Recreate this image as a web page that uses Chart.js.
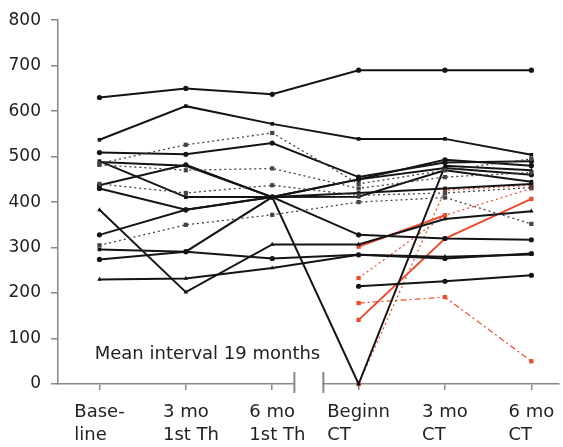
<!DOCTYPE html>
<html>
<head>
<meta charset="utf-8">
<script src="https://cdn.jsdelivr.net/npm/chart.js@4.4.1/dist/chart.umd.min.js"></script>
<style>
  html, body { margin: 0; padding: 0; background: #fff; }
  #wrap { width: 563px; height: 447px; }
</style>
</head>
<body>
<div id="wrap"><canvas id="spaghetti"></canvas></div>
<script>
// time points (x axis), two lines each
const timepoints = [["Base-", "line"], ["3 mo", "1st Th"], ["6 mo", "1st Th"], ["Beginn", "CT"], ["3 mo", "CT"], ["6 mo", "CT"]];
const note = "Mean interval 19 months";

// one array per patient
const blackSolid = [
  [630, 650, 637, 690, 690, 690],
  [537, 611, 572, 539, 539, 504],
  [509, 505, 530, 455, 487, 490],
  [488, 480, 411, 0, 480, 470],
  [437, 482, 411, 450, 475, 460],
  [490, 411, 411, 412, 470, 445],
  [430, 383, 411, 328, 320, 317],
  [383, 202, 307, 307, 363, 380],
  [328, 383, 411, 450, 493, 480],
  [296, 291, 411, 420, 430, 440],
  [274, 291, 276, 284, 276, 287],
  [230, 232, 255, 284, 280, 285],
  [null, null, null, 215, 226, 239]
];
const greyDotted = [
  [485, 526, 552, 440, 470, 495],
  [482, 470, 474, 430, 455, 465],
  [440, 420, 437, 415, 420, 432],
  [305, 350, 372, 400, 410, 352]
];
const redSolid = [
  [null, null, null, 141, 320, 407],
  [null, null, null, 302, 371, null]
];
const redDotted = [
  [null, null, null, 233, 371, 430],
  [null, null, null, 0, 426, 437]
];
const redDashDot = [
  [null, null, null, 178, 191, 50]
];

const BLACK = '#141414', GREY = '#444', RED = '#ee4a2c';
const shapes = ['circle', 'rect', 'circle', 'triangle'];

function toPoints(vals) {
  return vals.map((v, i) => ({ x: i, y: v }));
}
function makeSet(vals, color, width, dash, shape, r) {
  return {
    data: toPoints(vals),
    borderColor: color,
    backgroundColor: color,
    borderWidth: width,
    borderDash: dash,
    pointStyle: shape,
    pointRadius: r,
    pointBorderWidth: 0,
    tension: 0,
    clip: false
  };
}

const datasets = [];
greyDotted.forEach((s, k) => datasets.push(makeSet(s, GREY, 1.3, [2, 3], 'rect', 3)));
blackSolid.forEach((s, k) => datasets.push(makeSet(s, BLACK, 2, [], shapes[k % shapes.length], 2.6)));
redSolid.forEach(s => datasets.push(makeSet(s, RED, 2, [], 'rect', 3)));
redDotted.forEach(s => datasets.push(makeSet(s, RED, 1.2, [2, 3], 'rect', 3)));
redDashDot.forEach(s => datasets.push(makeSet(s, RED, 1.2, [6, 3, 2, 3], 'rect', 3)));

// axis break, two-line x labels and the note
const extras = {
  id: 'extras',
  afterDraw(chart) {
    const { ctx, scales: { x, y } } = chart;
    const y0 = y.getPixelForValue(0);
    const xa = x.getPixelForValue(2.43) - 15, xb = x.getPixelForValue(2.43) + 14;
    ctx.save();
    ctx.fillStyle = '#fff';
    ctx.fillRect(xa + 1, y0 - 3, xb - xa - 2, 6);
    ctx.strokeStyle = '#888';
    ctx.lineWidth = 2;
    ctx.beginPath();
    ctx.moveTo(xa, y0 - 12); ctx.lineTo(xa, y0 + 9);
    ctx.moveTo(xb, y0 - 12); ctx.lineTo(xb, y0 + 9);
    ctx.stroke();

    ctx.font = '18px "DejaVu Sans"';
    ctx.fillStyle = '#222';
    ctx.textAlign = 'left';
    ctx.textBaseline = 'alphabetic';
    timepoints.forEach((lines, i) => {
      const px = x.getPixelForValue(i);
      const w = ctx.measureText(lines[0]).width;
      lines.forEach((t, j) => ctx.fillText(t, px - w / 2, y0 + 33 + j * 23));
    });
    ctx.fillText(note, x.getPixelForValue(-0.055), y.getPixelForValue(56));
    ctx.restore();
  }
};

new Chart(document.getElementById('spaghetti').getContext('2d'), {
  type: 'line',
  data: { datasets: datasets },
  options: {
    responsive: true,
    maintainAspectRatio: false,
    animation: false,
    layout: { padding: { top: 16, right: 0, bottom: 0, left: 0 } },
    plugins: { legend: { display: false }, tooltip: { enabled: false } },
    scales: {
      x: {
        type: 'linear',
        min: -0.48,
        max: 5.32,
        afterBuildTicks: s => { s.ticks = timepoints.map((t, i) => ({ value: i })); },
        afterFit: s => { s.height = 63; },
        ticks: { display: false },
        grid: { drawOnChartArea: false, drawTicks: true, tickLength: 6, color: '#888', lineWidth: 1.5 },
        border: { color: '#888', width: 1.5 }
      },
      y: {
        min: 0,
        max: 800,
        afterFit: s => { s.width = 58; },
        ticks: { stepSize: 100, padding: 10, color: '#222', font: { family: 'DejaVu Sans', size: 17 } },
        grid: { drawOnChartArea: false, drawTicks: true, tickLength: 7, color: '#888', lineWidth: 1.5 },
        border: { color: '#888', width: 1.5 }
      }
    }
  },
  plugins: [extras]
});
</script>
</body>
</html>
